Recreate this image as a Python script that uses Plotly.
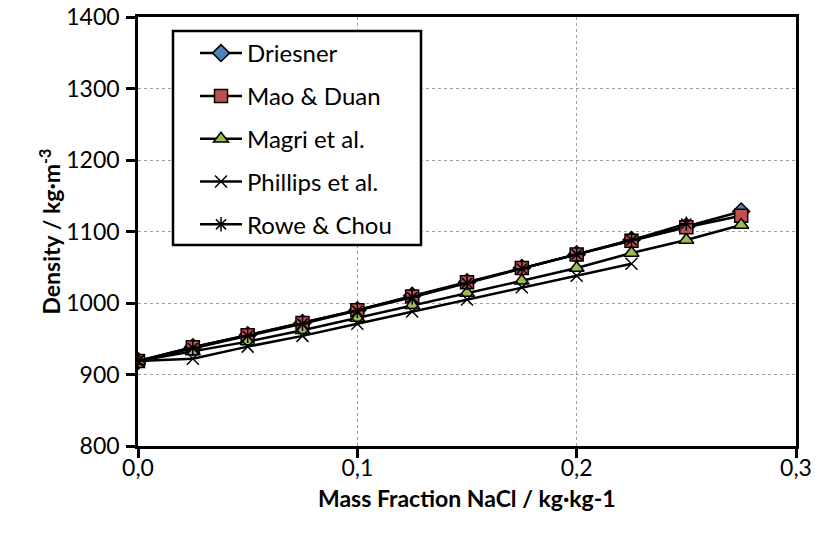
import plotly.graph_objects as go

x_all = [0.0, 0.025, 0.05, 0.075, 0.1, 0.125, 0.15, 0.175, 0.2, 0.225, 0.25, 0.275]
driesner = [919, 938, 955, 972, 990, 1010, 1029, 1049, 1068, 1088, 1107, 1128]
mao_duan = [919, 938, 955, 972, 990, 1009, 1029, 1049, 1068, 1087, 1106, 1122]
magri = [919, 932, 946, 962, 979, 997, 1014, 1031, 1049, 1070, 1088, 1109]
phillips = [919, 922, 939, 954, 971, 988, 1005, 1022, 1038, 1055]
rowe_chou = [919, 937, 954, 971, 989, 1008, 1028, 1048, 1068, 1088, 1111]

x_ticks = [0.0, 0.1, 0.2, 0.3]
x_tick_labels = ["0,0", "0,1", "0,2", "0,3"]
y_ticks = [800, 900, 1000, 1100, 1200, 1300, 1400]

FONT = "Lato"
W, H = 816, 541
ML, MR, MT, MB = 138, 20, 17, 95
PW, PH = W - ML - MR, H - MT - MB


def px_x(p):
    return (p - ML) / PW


def px_y(p):
    return 1 - (p - MT) / PH


series = [
    ("Driesner", driesner, dict(symbol="diamond", size=13, color="#4F81BD",
                                line=dict(color="black", width=1.5))),
    ("Mao & Duan", mao_duan, dict(symbol="square", size=13, color="#C0504D",
                                  line=dict(color="black", width=1.5))),
    ("Magri et al.", magri, dict(symbol="triangle-up", size=13, color="#9BBB59",
                                 line=dict(color="black", width=1.5))),
    ("Phillips et al.", phillips, dict(symbol="x-thin-open", size=12, color="black",
                                      line=dict(color="black", width=1.5))),
    ("Rowe & Chou", rowe_chou, dict(symbol="asterisk-open", size=12, color="black",
                                   line=dict(color="black", width=1.5))),
]

fig = go.Figure()
for i, (name, ys, mk) in enumerate(series):
    fig.add_trace(go.Scatter(
        x=x_all[:len(ys)], y=ys, name=name, mode="lines+markers",
        line=dict(color="black", width=2.5), marker=mk,
        legendgroup=f"g{i}",
    ))

axis_common = dict(
    showgrid=True, gridcolor="#A0A0A0", griddash="dot", gridwidth=1,
    showline=True, linecolor="black", linewidth=2.5, mirror=True,
    ticks="outside", ticklen=9, tickwidth=2.5, tickcolor="black",
    zeroline=False, automargin=False,
    tickfont=dict(family=FONT, size=23, color="black"),
)

fig.update_layout(
    template="none",
    width=W, height=H,
    margin=dict(l=ML, r=MR, t=MT, b=MB),
    paper_bgcolor="white", plot_bgcolor="white",
    font=dict(family=FONT, size=23, color="black"),
    showlegend=True,
    legend=dict(
        x=px_x(195), y=px_y(31), xanchor="left", yanchor="top",
        bgcolor="rgba(0,0,0,0)", borderwidth=0,
        font=dict(family=FONT, size=24, color="black"),
        tracegroupgap=8.6, itemwidth=42,
    ),
    xaxis=dict(
        range=[0, 0.3], tickvals=x_ticks, ticktext=x_tick_labels,
        ticklabelstandoff=-9,
        **axis_common,
    ),
    yaxis=dict(
        range=[800, 1400], tickvals=y_ticks,
        ticklabelstandoff=2,
        **axis_common,
    ),
    shapes=[dict(
        type="rect", xref="paper", yref="paper",
        x0=px_x(173), x1=px_x(421), y0=px_y(245), y1=px_y(31),
        line=dict(color="black", width=2.5), fillcolor="white", layer="above",
    )],
    annotations=[
        dict(text="<b>Mass Fraction NaCl / kg·kg-1</b>", xref="paper", yref="paper",
             x=0.5, y=px_y(498), xanchor="center", yanchor="middle", showarrow=False,
             font=dict(family=FONT, size=23, color="black")),
        dict(text="<b>Density / kg·m<sup>-3</sup></b>", xref="paper", yref="paper",
             x=px_x(50), y=0.5, xanchor="center", yanchor="middle", showarrow=False,
             textangle=-90, font=dict(family=FONT, size=23, color="black")),
    ],
)

fig.write_html("out.html")
